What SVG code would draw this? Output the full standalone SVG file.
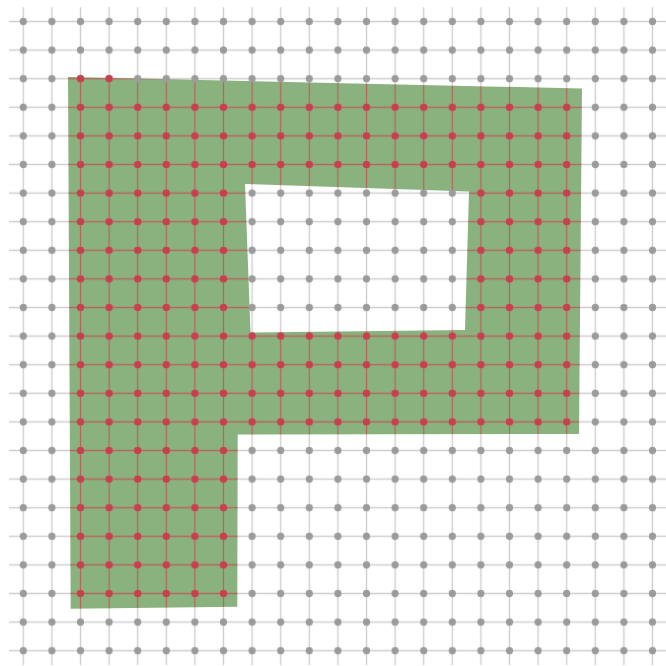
<svg xmlns="http://www.w3.org/2000/svg" width="666" height="666" viewBox="0 0 666 666">
  <defs>
    <pattern id="gridLines" patternUnits="userSpaceOnUse" x="9" y="7.2" width="28.6" height="28.6">
      <path d="M0,14.3 H28.6 M14.3,0 V28.6" stroke="#cfcfcf" stroke-width="1.4" fill="none"/>
    </pattern>
    <pattern id="redLines" patternUnits="userSpaceOnUse" x="9" y="7.2" width="28.6" height="28.6">
      <path d="M0,14.3 H28.6 M14.3,0 V28.6" stroke="#c8464e" stroke-opacity="0.7" stroke-width="1.3" fill="none"/>
    </pattern>
    <pattern id="grayDots" patternUnits="userSpaceOnUse" x="9" y="7.2" width="28.6" height="28.6">
      <circle cx="14.3" cy="14.3" r="3.6" fill="#9b9b9b"/>
    </pattern>
    <pattern id="redDots" patternUnits="userSpaceOnUse" x="9" y="7.2" width="28.6" height="28.6">
      <circle cx="14.3" cy="14.3" r="3.7" fill="#c7404b"/>
    </pattern>
    <clipPath id="shapeClip">
      <path clip-rule="evenodd" d="M68,77 L582,88.5 L579,434 L237.7,434.5 L237.3,606.7 L70.7,608.7 Z M245,184 L469,191.5 L465,330 L250.5,332.5 Z"/>
    </clipPath>
  </defs>
  <rect width="666" height="666" fill="#ffffff"/>
  <g id="grid">
    <rect x="9" y="7.2" width="657.8" height="657.8" fill="url(#gridLines)"/>
  </g>
  <g id="shape">
    <path fill="#8ab27f" fill-rule="evenodd" d="M68,77 L582,88.5 L579,434 L237.7,434.5 L237.3,606.7 L70.7,608.7 Z M245,184 L469,191.5 L465,330 L250.5,332.5 Z"/>
  </g>
  <g id="inner-lines" clip-path="url(#shapeClip)">
    <rect x="9" y="7.2" width="657.8" height="657.8" fill="url(#redLines)"/>
  </g>
  <g id="points">
    <rect x="9" y="7.2" width="657.8" height="657.8" fill="url(#grayDots)"/>
  </g>
  <g id="inside-points" fill="url(#redDots)">
    <rect x="66.2" y="64.4" width="57.2" height="28.6"/>
    <rect x="66.2" y="93" width="514.8" height="85.8"/>
    <rect x="66.2" y="178.8" width="171.6" height="143"/>
    <rect x="466.6" y="178.8" width="114.4" height="143"/>
    <rect x="66.2" y="321.8" width="514.8" height="114.4"/>
    <rect x="66.2" y="436.2" width="171.6" height="171.6"/>
  </g>
</svg>
